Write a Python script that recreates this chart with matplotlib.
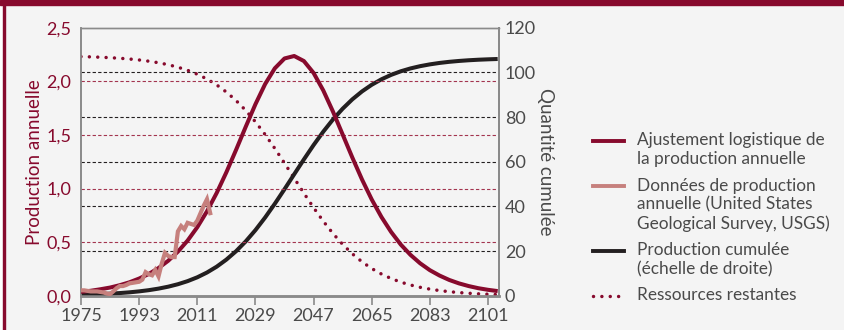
import matplotlib
matplotlib.use("Agg")
import matplotlib.pyplot as plt
from matplotlib.lines import Line2D
from matplotlib.patches import Rectangle

plt.rcParams['font.family'] = ['Lato', 'DejaVu Sans']

# data
years = [1975, 1978, 1981, 1984, 1987, 1990, 1993, 1996, 1999, 2002, 2005,
         2008, 2011, 2014, 2017, 2020, 2023, 2026, 2029, 2032, 2035, 2038,
         2041, 2044, 2047, 2050, 2053, 2056, 2059, 2062, 2065, 2068, 2071,
         2074, 2077, 2080, 2083, 2086, 2089, 2092, 2095, 2098, 2101, 2104]
logistic_fit = [0.036, 0.046, 0.060, 0.076, 0.098, 0.125, 0.160, 0.203, 0.258,
                0.326, 0.411, 0.514, 0.639, 0.787, 0.958, 1.151, 1.360, 1.576,
                1.786, 1.974, 2.121, 2.213, 2.236, 2.189, 2.078, 1.915, 1.718,
                1.504, 1.289, 1.084, 0.898, 0.735, 0.595, 0.477, 0.381, 0.302,
                0.238, 0.188, 0.147, 0.115, 0.090, 0.070, 0.055, 0.043]
cumulative = [0.43, 0.56, 0.71, 0.92, 1.18, 1.51, 1.94, 2.48, 3.17, 4.04, 5.14,
              6.52, 8.24, 10.38, 12.99, 16.16, 19.91, 24.32, 29.36, 35.01, 41.17,
              47.68, 54.37, 61.02, 67.44, 73.44, 78.90, 83.73, 87.92, 91.47,
              94.44, 96.88, 98.87, 100.48, 101.76, 102.78, 103.58, 104.22,
              104.72, 105.11, 105.42, 105.66, 105.84, 105.99]
remaining = [107.06, 106.94, 106.78, 106.57, 106.31, 105.98, 105.55, 105.00,
             104.31, 103.43, 102.31, 100.92, 99.18, 97.03, 94.39, 91.20, 87.40,
             82.96, 77.86, 72.16, 65.95, 59.37, 52.62, 45.91, 39.43, 33.37,
             27.86, 22.99, 18.76, 15.17, 12.17, 9.71, 7.70, 6.08, 4.79, 3.76,
             2.94, 2.30, 1.80, 1.40, 1.09, 0.85, 0.66, 0.52]
usgs_years = list(range(1975, 2016))
usgs_prod = [0.05, 0.05, 0.045, 0.04, 0.04, 0.04, 0.035, 0.03, 0.02, 0.015,
             0.04, 0.07, 0.09, 0.09, 0.10, 0.115, 0.12, 0.125, 0.13, 0.15,
             0.22, 0.20, 0.19, 0.24, 0.18, 0.30, 0.40, 0.37, 0.36, 0.36,
             0.60, 0.65, 0.62, 0.68, 0.67, 0.66, 0.70, 0.77, 0.84, 0.90, 0.77]

left_ticks = [0, 0.5, 1.0, 1.5, 2.0, 2.5]
left_labels = ['0,0', '0,5', '1,0', '1,5', '2,0', '2,5']
right_ticks = [0, 20, 40, 60, 80, 100, 120]
x_ticks = [1975, 1993, 2011, 2029, 2047, 2065, 2083, 2101]

legend_labels = ['Ajustement logistique de\nla production annuelle',
                 'Données de production\nannuelle (United States\nGeological Survey, USGS)',
                 'Production cumulée\n(échelle de droite)',
                 'Ressources restantes']

RED = '#870a2d'
GRID_RED = '#a3344f'
PINK = '#c6807d'
BLACK = '#231f20'
GREY_TXT = '#4a4a4a'
SPINE = '#8a8a8a'
BG = '#f4f4f4'
W, H = 844, 330

fig = plt.figure(figsize=(W / 100, H / 100), dpi=100, facecolor=BG)

# frame: white margin, red left rule, red top band
fig.patches.append(Rectangle((0, 0), 2.7 / W, 1, transform=fig.transFigure,
                             color='white', zorder=0))
fig.patches.append(Rectangle((2.7 / W, 0), 2.6 / W, 1, transform=fig.transFigure,
                             color=RED, zorder=1))
fig.patches.append(Rectangle((0, 1 - 4.8 / H), 1, 4.8 / H, transform=fig.transFigure,
                             color=RED, zorder=1))

ax = fig.add_axes([81 / W, 1 - 295.7 / H, (499.3 - 81) / W, (295.7 - 27.7) / H])
ax2 = ax.twinx()
ax.set_zorder(2)
ax2.set_zorder(1)
ax.patch.set_visible(False)
ax2.patch.set_facecolor(BG)

dots = dict(linestyle=(0, (0.01, 2.4)), dash_capstyle='round', linewidth=2.5)

# right axis: grid, cumulative, remaining
for v in right_ticks[1:-1]:
    ax2.axhline(v, color=BLACK, lw=0.8, dashes=(3, 2), zorder=1)
ax2.plot(years, remaining, color=RED, zorder=3, **dots)
ax2.plot(years, cumulative, color=BLACK, lw=2.9, zorder=4, solid_capstyle='butt')

# left axis: grid, fit, USGS data
for v in left_ticks[1:-1]:
    ax.axhline(v, color=GRID_RED, lw=0.8, dashes=(3, 2), zorder=1)
ax.plot(usgs_years, usgs_prod, color=PINK, lw=3.0, zorder=4, solid_joinstyle='miter')
ax.plot(years, logistic_fit, color=RED, lw=2.9, zorder=3, solid_capstyle='butt')

ax.set_xlim(1975, 2104.5)
ax.set_ylim(0, 2.5)
ax2.set_ylim(0, 120)

ax.set_xticks(x_ticks)
ax.set_xticklabels([str(x) for x in x_ticks], fontsize=13, color=GREY_TXT)
ax.tick_params(axis='x', length=6.5, width=1.2, color=SPINE, pad=2)
ax.set_yticks(left_ticks)
ax.set_yticklabels(left_labels, fontsize=13, color=RED)
ax.tick_params(axis='y', length=0, pad=7)
ax2.set_yticks(right_ticks)
ax2.set_yticklabels([str(v) for v in right_ticks], fontsize=13, color=GREY_TXT)
ax2.tick_params(axis='y', length=0, pad=4)

for a in (ax, ax2):
    for name, sp in a.spines.items():
        sp.set_color(SPINE)
        sp.set_linewidth({'bottom': 1.8, 'right': 1.4, 'left': 1.2, 'top': 1.0}[name])

ax.set_ylabel('Production annuelle', fontsize=13.5, color=RED, labelpad=2)
ax2.set_ylabel('Quantité cumulée', fontsize=13.5, color=GREY_TXT, rotation=-90,
               labelpad=13)

# legend drawn by hand so the key lines sit on the first text line
handles = [dict(color=RED, lw=2.8), dict(color=PINK, lw=2.8),
           dict(color=BLACK, lw=2.8), dict(color=RED, **dots)]
first_baseline = [145, 190.5, 255, 300]
line_gap = 19.3
for style, label, base in zip(handles, legend_labels, first_baseline):
    hy = 1 - (base - 4.5) / H
    fig.add_artist(Line2D([593 / W, 624 / W], [hy, hy], transform=fig.transFigure,
                          **style))
    for k, line in enumerate(label.split('\n')):
        fig.text(637 / W, 1 - (base + k * line_gap) / H, line, fontsize=12.4,
                 color=GREY_TXT, va='baseline', ha='left')

fig.savefig('out.png', dpi=100, facecolor=BG)
